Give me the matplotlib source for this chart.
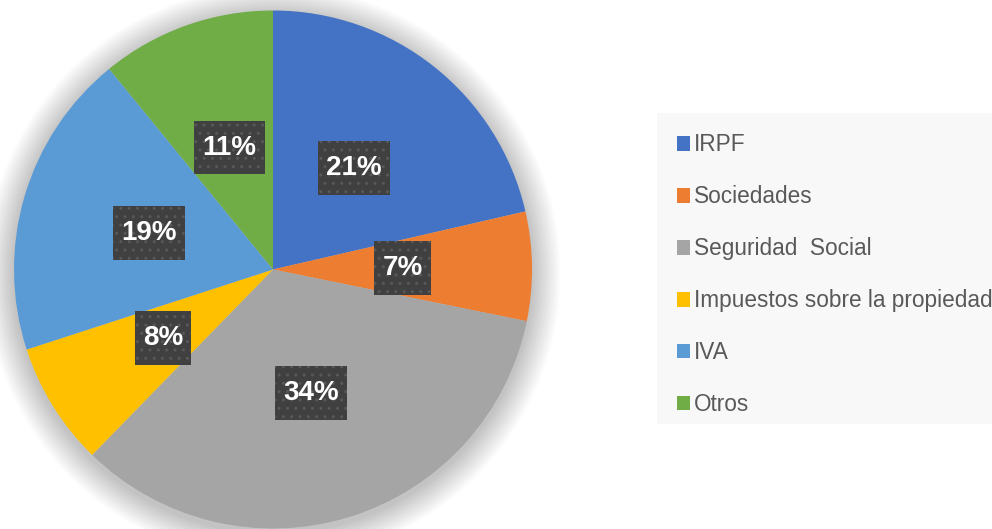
import matplotlib
matplotlib.use("Agg")
import matplotlib.pyplot as plt
from matplotlib.patches import Patch, Circle, Rectangle
from matplotlib.path import Path

categories = ["IRPF", "Sociedades", "Seguridad  Social", "Impuestos sobre la propiedad", "IVA", "Otros"]
values = [21.4, 6.8, 34.1, 7.7, 19.1, 10.9]
colors = ["#4472C4", "#ED7D31", "#A5A5A5", "#FFC000", "#5B9BD5", "#70AD47"]

W, H = 992, 529
fig = plt.figure(figsize=(W / 100, H / 100), dpi=100)
fig.patch.set_facecolor("white")

cx, cy, R = 273, 269.5, 259
lim = 1.15
ax = fig.add_axes([(cx - lim * R) / W, (H - cy - lim * R) / H, 2 * lim * R / W, 2 * lim * R / H])
ax.set_xlim(-lim, lim)
ax.set_ylim(-lim, lim)
ax.set_aspect("equal")
ax.axis("off")

# soft shadow
n = 20
for i in range(n):
    r = 1.0 + 0.11 * (i + 1) / n
    ax.add_patch(Circle((0.0, -0.015), r, facecolor="black", edgecolor="none",
                        alpha=0.010, zorder=0))


def label_box(x0, y0, width, height, mutation_size):
    px = 0.30 * mutation_size
    py = 0.50 * mutation_size
    x0, y0 = x0 - px, y0 - py
    x1, y1 = x0 + width + 2 * px, y0 + height + 2 * py
    return Path([(x0, y0), (x1, y0), (x1, y1), (x0, y1), (x0, y0)], closed=True)


total = sum(values)
wedges, texts = ax.pie(values, colors=colors, startangle=90, counterclock=False,
                       radius=1.0, labels=[f"{v / total * 100:.0f}%" for v in values],
                       labeldistance=0.5,
                       wedgeprops=dict(linewidth=0, zorder=2),
                       textprops=dict(color="white", fontsize=20, fontweight="bold",
                                      family="Liberation Sans", ha="center", va="center",
                                      zorder=5))
for t in texts:
    t.set_bbox(dict(boxstyle=label_box, facecolor="#404040",
                    edgecolor="#585858", linewidth=0, hatch=".."))
ax.set_xlim(-lim, lim)
ax.set_ylim(-lim, lim)

# legend background panel
fig.patches.append(Rectangle((657 / W, 1 - 424 / H), (W - 657) / W + 0.01, (424 - 113) / H,
                             transform=fig.transFigure, facecolor="#f8f8f8",
                             edgecolor="none", zorder=0))

handles = [Patch(facecolor=c, edgecolor="none") for c in colors]
leg = fig.legend(handles, categories, loc="upper left",
                 bbox_to_anchor=(657 / W, 1 - 113 / H), frameon=False, borderaxespad=0,
                 prop=dict(family="Liberation Sans", size=16.3),
                 handlelength=0.55, handleheight=0.6, handletextpad=0.2,
                 labelspacing=1.28, borderpad=0.9)
for t in leg.get_texts():
    t.set_color("#595959")

fig.savefig("out.png", dpi=100)
